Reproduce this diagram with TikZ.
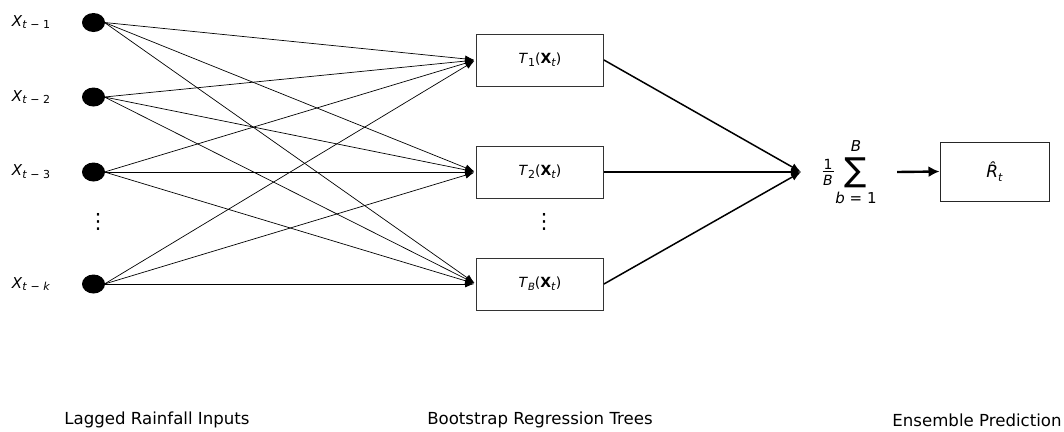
\documentclass[tikz,border=0pt]{standalone}
\usepackage{fontspec}
\setmainfont{DejaVu Sans}
\usepackage{graphicx}
\usetikzlibrary{arrows.meta,shapes.geometric}
\newcommand{\sub}[1]{\raisebox{-0.35ex}{\fontsize{11}{11}\selectfont #1}}
\newcommand{\subs}[1]{\raisebox{-0.35ex}{\fontsize{10}{10}\selectfont #1}}
\begin{document}
\begin{tikzpicture}[x=1pt,y=-1pt,
  inp/.style={ellipse,fill=black,minimum width=23pt,minimum height=19pt,inner sep=0pt},
  xlab/.style={font=\fontsize{15}{15}\selectfont},
  tree/.style={draw=black!80,line width=0.9pt,minimum width=127pt,minimum height=52pt,inner sep=0pt,font=\fontsize{14}{14}\selectfont},
  inedge/.style={line width=0.7pt,-{Latex[length=9pt,width=7pt]},shorten >=2pt},
  outedge/.style={line width=1.5pt,-{Latex[length=10pt,width=8pt]}},
  vdots/.style={font=\fontsize{21}{21}\selectfont},
  caplab/.style={font=\fontsize{16.6}{16.6}\selectfont}]
\useasboundingbox (0,0) rectangle (1064,431);
% inputs
\node[inp] (x1) at (93.5,22.5) {};
\node[inp] (x2) at (93.5,97) {};
\node[inp] (x3) at (93.5,172) {};
\node[inp] (xk) at (93.5,284) {};
\node[xlab] (l1) at (31,22) {\textit{X}\sub{\textit{t} − 1}};
\node[xlab] (l2) at (31,97) {\textit{X}\sub{\textit{t} − 2}};
\node[xlab] (l3) at (31,172) {\textit{X}\sub{\textit{t} − 3}};
\node[xlab] (lk) at (31,284) {\textit{X}\sub{\textit{t} − \textit{k}}};
\node[vdots] (d1) at (98,222) {⋮};
% trees
\node[tree] (t1) at (540,60) {\textit{T}\sub{1}(\textbf{X}\sub{\textit{t}})};
\node[tree] (t2) at (540,172) {\textit{T}\sub{2}(\textbf{X}\sub{\textit{t}})};
\node[tree] (tb) at (540,284) {\textit{T}\subs{\textit{B}}(\textbf{X}\sub{\textit{t}})};
\node[vdots] (d2) at (544,222) {⋮};
% edges
\foreach \a in {x1,x2,x3,xk}{
  \foreach \b in {t1,t2,tb}{
    \draw[inedge] (\a.center) ++(11,0) coordinate (s) -- (\b.west);
  }
}
% aggregation
\coordinate (agg) at (801,172);
\foreach \b in {t1,t2,tb}{
  \draw[outedge] (\b.east) -- (agg);
}
\node[inner sep=0pt] (frac) at (828,172) {\shortstack{\fontsize{14}{14}\selectfont 1\\[-1pt]\rule{11pt}{0.7pt}\\\fontsize{14}{14}\selectfont\textit{B}}};
\node[inner sep=0pt] (sum) at (856,173) {\fontsize{33}{33}\selectfont ∑};
\node[font=\fontsize{15}{15}\selectfont,inner sep=0pt] (supB) at (856,146) {\textit{B}};
\node[font=\fontsize{15}{15}\selectfont,inner sep=0pt] (subb) at (856,198) {\textit{b} = 1};
\node[draw=black!85,line width=1pt,minimum width=109pt,minimum height=59pt,inner sep=0pt,font=\fontsize{17}{17}\selectfont] (r) at (994.5,171.5)
  {\textit{R̂}\sub{\textit{t}}};
\coordinate (sa) at (897,172);
\draw[line width=2.4pt,-{Latex[length=11pt,width=11pt]}] (sa) -- (r.west);
% captions
\node[caplab] (c1) at (157,420) {Lagged Rainfall Inputs};
\node[caplab] (c2) at (540,420) {Bootstrap Regression Trees};
\node[caplab] (c3) at (977,420) {Ensemble Prediction};
\end{tikzpicture}
\end{document}
